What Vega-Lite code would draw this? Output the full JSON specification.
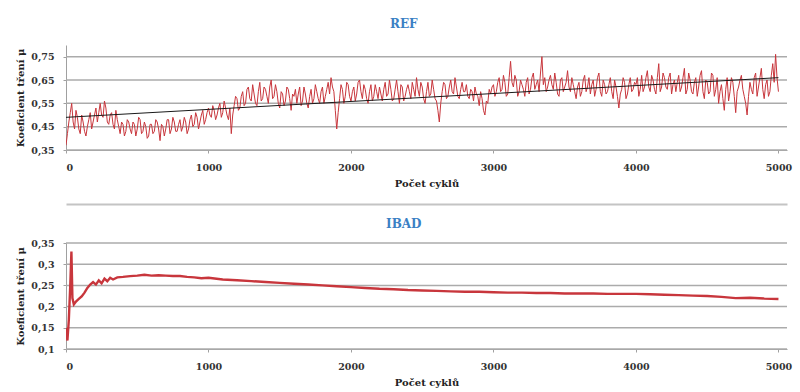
{
  "$schema": "https://vega.github.io/schema/vega-lite/v6.json",
  "background": "white",
  "padding": {"left": 15, "top": 18, "right": 3, "bottom": 0},
  "config": {
    "font": "DejaVu Serif",
    "view": {"stroke": null},
    "concat": {"spacing": 14},
    "title": {"font": "DejaVu Serif", "fontSize": 12, "fontWeight": "bold", "color": "#3A80C4", "anchor": "middle", "frame": "bounds", "offset": 14},
    "axis": {
      "labelFont": "DejaVu Serif", "labelFontSize": 9.5, "labelFontWeight": "bold", "labelColor": "#333333",
      "titleFont": "DejaVu Serif", "titleFontSize": 10, "titleFontWeight": "bold", "titleColor": "#222222",
      "domainColor": "#a0a0a0", "tickColor": "#a0a0a0", "tickSize": 3
    }
  },
  "datasets": {
    "ref": [
      {"c":0,"mu":0.37},{"c":20,"mu":0.47},{"c":40,"mu":0.55},{"c":60,"mu":0.44},{"c":80,"mu":0.49},{"c":100,"mu":0.42},{"c":120,"mu":0.47},{"c":140,"mu":0.41},{"c":160,"mu":0.48},{"c":180,"mu":0.44},
      {"c":200,"mu":0.50},{"c":220,"mu":0.47},{"c":240,"mu":0.55},{"c":260,"mu":0.49},{"c":280,"mu":0.53},{"c":300,"mu":0.46},{"c":320,"mu":0.51},{"c":340,"mu":0.44},{"c":360,"mu":0.48},{"c":380,"mu":0.42},
      {"c":400,"mu":0.46},{"c":420,"mu":0.43},{"c":440,"mu":0.47},{"c":460,"mu":0.42},{"c":480,"mu":0.46},{"c":500,"mu":0.44},{"c":520,"mu":0.48},{"c":540,"mu":0.43},{"c":560,"mu":0.45},{"c":580,"mu":0.41},
      {"c":600,"mu":0.46},{"c":620,"mu":0.43},{"c":640,"mu":0.47},{"c":660,"mu":0.39},{"c":680,"mu":0.45},{"c":700,"mu":0.44},{"c":720,"mu":0.48},{"c":740,"mu":0.44},{"c":760,"mu":0.47},{"c":780,"mu":0.43},
      {"c":800,"mu":0.48},{"c":820,"mu":0.45},{"c":840,"mu":0.47},{"c":860,"mu":0.44},{"c":880,"mu":0.50},{"c":900,"mu":0.46},{"c":920,"mu":0.49},{"c":940,"mu":0.47},{"c":960,"mu":0.52},{"c":980,"mu":0.48},
      {"c":1000,"mu":0.53},{"c":1020,"mu":0.49},{"c":1040,"mu":0.52},{"c":1060,"mu":0.50},{"c":1080,"mu":0.55},{"c":1100,"mu":0.51},{"c":1120,"mu":0.53},{"c":1140,"mu":0.48},{"c":1160,"mu":0.42},{"c":1180,"mu":0.54},
      {"c":1200,"mu":0.57},{"c":1220,"mu":0.53},{"c":1240,"mu":0.60},{"c":1260,"mu":0.55},{"c":1280,"mu":0.62},{"c":1300,"mu":0.56},{"c":1320,"mu":0.59},{"c":1340,"mu":0.54},{"c":1360,"mu":0.64},{"c":1380,"mu":0.57},
      {"c":1400,"mu":0.61},{"c":1420,"mu":0.55},{"c":1440,"mu":0.65},{"c":1460,"mu":0.58},{"c":1480,"mu":0.60},{"c":1500,"mu":0.53},{"c":1520,"mu":0.59},{"c":1540,"mu":0.56},{"c":1560,"mu":0.61},{"c":1580,"mu":0.52},
      {"c":1600,"mu":0.58},{"c":1620,"mu":0.55},{"c":1640,"mu":0.62},{"c":1660,"mu":0.56},{"c":1680,"mu":0.59},{"c":1700,"mu":0.53},{"c":1720,"mu":0.61},{"c":1740,"mu":0.57},{"c":1760,"mu":0.60},{"c":1780,"mu":0.55},
      {"c":1800,"mu":0.62},{"c":1820,"mu":0.58},{"c":1840,"mu":0.64},{"c":1860,"mu":0.66},{"c":1880,"mu":0.60},{"c":1900,"mu":0.44},{"c":1920,"mu":0.57},{"c":1940,"mu":0.61},{"c":1960,"mu":0.58},{"c":1980,"mu":0.63},
      {"c":2000,"mu":0.56},{"c":2020,"mu":0.62},{"c":2040,"mu":0.59},{"c":2060,"mu":0.65},{"c":2080,"mu":0.57},{"c":2100,"mu":0.61},{"c":2120,"mu":0.55},{"c":2140,"mu":0.63},{"c":2160,"mu":0.58},{"c":2180,"mu":0.60},
      {"c":2200,"mu":0.62},{"c":2220,"mu":0.56},{"c":2240,"mu":0.64},{"c":2260,"mu":0.59},{"c":2280,"mu":0.61},{"c":2300,"mu":0.57},{"c":2320,"mu":0.65},{"c":2340,"mu":0.55},{"c":2360,"mu":0.62},{"c":2380,"mu":0.58},
      {"c":2400,"mu":0.63},{"c":2420,"mu":0.57},{"c":2440,"mu":0.61},{"c":2460,"mu":0.66},{"c":2480,"mu":0.58},{"c":2500,"mu":0.62},{"c":2520,"mu":0.55},{"c":2540,"mu":0.64},{"c":2560,"mu":0.59},{"c":2580,"mu":0.61},
      {"c":2600,"mu":0.56},{"c":2620,"mu":0.47},{"c":2640,"mu":0.60},{"c":2660,"mu":0.63},{"c":2680,"mu":0.58},{"c":2700,"mu":0.65},{"c":2720,"mu":0.59},{"c":2740,"mu":0.62},{"c":2760,"mu":0.57},{"c":2780,"mu":0.64},
      {"c":2800,"mu":0.60},{"c":2820,"mu":0.58},{"c":2840,"mu":0.61},{"c":2860,"mu":0.56},{"c":2880,"mu":0.59},{"c":2900,"mu":0.54},{"c":2920,"mu":0.57},{"c":2940,"mu":0.50},{"c":2960,"mu":0.55},{"c":2980,"mu":0.59},
      {"c":3000,"mu":0.63},{"c":3020,"mu":0.60},{"c":3040,"mu":0.66},{"c":3060,"mu":0.61},{"c":3080,"mu":0.64},{"c":3100,"mu":0.59},{"c":3120,"mu":0.73},{"c":3140,"mu":0.62},{"c":3160,"mu":0.65},{"c":3180,"mu":0.60},
      {"c":3200,"mu":0.63},{"c":3220,"mu":0.58},{"c":3240,"mu":0.66},{"c":3260,"mu":0.61},{"c":3280,"mu":0.68},{"c":3300,"mu":0.63},{"c":3320,"mu":0.60},{"c":3340,"mu":0.75},{"c":3360,"mu":0.66},{"c":3380,"mu":0.62},
      {"c":3400,"mu":0.67},{"c":3420,"mu":0.61},{"c":3440,"mu":0.64},{"c":3460,"mu":0.58},{"c":3480,"mu":0.66},{"c":3500,"mu":0.62},{"c":3520,"mu":0.69},{"c":3540,"mu":0.60},{"c":3560,"mu":0.63},{"c":3580,"mu":0.57},
      {"c":3600,"mu":0.64},{"c":3620,"mu":0.60},{"c":3640,"mu":0.67},{"c":3660,"mu":0.62},{"c":3680,"mu":0.59},{"c":3700,"mu":0.65},{"c":3720,"mu":0.61},{"c":3740,"mu":0.68},{"c":3760,"mu":0.58},{"c":3780,"mu":0.63},
      {"c":3800,"mu":0.60},{"c":3820,"mu":0.66},{"c":3840,"mu":0.57},{"c":3860,"mu":0.62},{"c":3880,"mu":0.53},{"c":3900,"mu":0.61},{"c":3920,"mu":0.64},{"c":3940,"mu":0.59},{"c":3960,"mu":0.66},{"c":3980,"mu":0.61},
      {"c":4000,"mu":0.63},{"c":4020,"mu":0.58},{"c":4040,"mu":0.67},{"c":4060,"mu":0.62},{"c":4080,"mu":0.69},{"c":4100,"mu":0.60},{"c":4120,"mu":0.65},{"c":4140,"mu":0.59},{"c":4160,"mu":0.72},{"c":4180,"mu":0.62},
      {"c":4200,"mu":0.66},{"c":4220,"mu":0.61},{"c":4240,"mu":0.68},{"c":4260,"mu":0.63},{"c":4280,"mu":0.60},{"c":4300,"mu":0.67},{"c":4320,"mu":0.62},{"c":4340,"mu":0.70},{"c":4360,"mu":0.61},{"c":4380,"mu":0.65},
      {"c":4400,"mu":0.59},{"c":4420,"mu":0.66},{"c":4440,"mu":0.62},{"c":4460,"mu":0.69},{"c":4480,"mu":0.57},{"c":4500,"mu":0.64},{"c":4520,"mu":0.60},{"c":4540,"mu":0.67},{"c":4560,"mu":0.61},{"c":4580,"mu":0.55},
      {"c":4600,"mu":0.63},{"c":4620,"mu":0.52},{"c":4640,"mu":0.66},{"c":4660,"mu":0.60},{"c":4680,"mu":0.64},{"c":4700,"mu":0.51},{"c":4720,"mu":0.62},{"c":4740,"mu":0.67},{"c":4760,"mu":0.58},{"c":4780,"mu":0.50},
      {"c":4800,"mu":0.64},{"c":4820,"mu":0.59},{"c":4840,"mu":0.68},{"c":4860,"mu":0.62},{"c":4880,"mu":0.70},{"c":4900,"mu":0.57},{"c":4920,"mu":0.65},{"c":4940,"mu":0.60},{"c":4960,"mu":0.72},{"c":4980,"mu":0.76},
      {"c":5000,"mu":0.60},
      {"c":10,"mu":0.42},{"c":30,"mu":0.51},{"c":50,"mu":0.47},{"c":70,"mu":0.52},{"c":90,"mu":0.44},{"c":110,"mu":0.50},{"c":130,"mu":0.43},{"c":150,"mu":0.45},{"c":170,"mu":0.51},{"c":190,"mu":0.47},
      {"c":210,"mu":0.53},{"c":230,"mu":0.51},{"c":250,"mu":0.50},{"c":270,"mu":0.56},{"c":290,"mu":0.47},{"c":310,"mu":0.50},{"c":330,"mu":0.46},{"c":350,"mu":0.52},{"c":370,"mu":0.45},{"c":390,"mu":0.47},
      {"c":410,"mu":0.41},{"c":430,"mu":0.48},{"c":450,"mu":0.44},{"c":470,"mu":0.47},{"c":490,"mu":0.41},{"c":510,"mu":0.49},{"c":530,"mu":0.42},{"c":550,"mu":0.47},{"c":570,"mu":0.40},{"c":590,"mu":0.46},
      {"c":610,"mu":0.42},{"c":630,"mu":0.48},{"c":650,"mu":0.44},{"c":670,"mu":0.46},{"c":690,"mu":0.41},{"c":710,"mu":0.48},{"c":730,"mu":0.42},{"c":750,"mu":0.49},{"c":770,"mu":0.43},{"c":790,"mu":0.46},
      {"c":810,"mu":0.43},{"c":830,"mu":0.49},{"c":850,"mu":0.42},{"c":870,"mu":0.48},{"c":890,"mu":0.45},{"c":910,"mu":0.51},{"c":930,"mu":0.44},{"c":950,"mu":0.50},{"c":970,"mu":0.46},{"c":990,"mu":0.51},
      {"c":1010,"mu":0.50},{"c":1030,"mu":0.54},{"c":1050,"mu":0.48},{"c":1070,"mu":0.53},{"c":1090,"mu":0.49},{"c":1110,"mu":0.56},{"c":1130,"mu":0.50},{"c":1150,"mu":0.53},{"c":1170,"mu":0.50},{"c":1190,"mu":0.58},
      {"c":1210,"mu":0.52},{"c":1230,"mu":0.58},{"c":1250,"mu":0.54},{"c":1270,"mu":0.61},{"c":1290,"mu":0.57},{"c":1310,"mu":0.63},{"c":1330,"mu":0.55},{"c":1350,"mu":0.60},{"c":1370,"mu":0.56},{"c":1390,"mu":0.62},
      {"c":1410,"mu":0.58},{"c":1430,"mu":0.62},{"c":1450,"mu":0.57},{"c":1470,"mu":0.63},{"c":1490,"mu":0.55},{"c":1510,"mu":0.60},{"c":1530,"mu":0.54},{"c":1550,"mu":0.62},{"c":1570,"mu":0.57},{"c":1590,"mu":0.59},
      {"c":1610,"mu":0.61},{"c":1630,"mu":0.59},{"c":1650,"mu":0.54},{"c":1670,"mu":0.62},{"c":1690,"mu":0.55},{"c":1710,"mu":0.58},{"c":1730,"mu":0.55},{"c":1750,"mu":0.63},{"c":1770,"mu":0.57},{"c":1790,"mu":0.60},
      {"c":1810,"mu":0.55},{"c":1830,"mu":0.61},{"c":1850,"mu":0.59},{"c":1870,"mu":0.62},{"c":1890,"mu":0.52},{"c":1910,"mu":0.51},{"c":1930,"mu":0.63},{"c":1950,"mu":0.55},{"c":1970,"mu":0.64},{"c":1990,"mu":0.58},
      {"c":2010,"mu":0.60},{"c":2030,"mu":0.56},{"c":2050,"mu":0.64},{"c":2070,"mu":0.60},{"c":2090,"mu":0.63},{"c":2110,"mu":0.57},{"c":2130,"mu":0.60},{"c":2150,"mu":0.56},{"c":2170,"mu":0.63},{"c":2190,"mu":0.57},
      {"c":2210,"mu":0.59},{"c":2230,"mu":0.61},{"c":2250,"mu":0.58},{"c":2270,"mu":0.65},{"c":2290,"mu":0.56},{"c":2310,"mu":0.61},{"c":2330,"mu":0.60},{"c":2350,"mu":0.63},{"c":2370,"mu":0.56},{"c":2390,"mu":0.61},
      {"c":2410,"mu":0.60},{"c":2430,"mu":0.64},{"c":2450,"mu":0.58},{"c":2470,"mu":0.61},{"c":2490,"mu":0.64},{"c":2510,"mu":0.57},{"c":2530,"mu":0.60},{"c":2550,"mu":0.58},{"c":2570,"mu":0.65},{"c":2590,"mu":0.57},
      {"c":2610,"mu":0.52},{"c":2630,"mu":0.55},{"c":2650,"mu":0.64},{"c":2670,"mu":0.57},{"c":2690,"mu":0.62},{"c":2710,"mu":0.60},{"c":2730,"mu":0.66},{"c":2750,"mu":0.58},{"c":2770,"mu":0.61},{"c":2790,"mu":0.60},
      {"c":2810,"mu":0.63},{"c":2830,"mu":0.57},{"c":2850,"mu":0.60},{"c":2870,"mu":0.62},{"c":2890,"mu":0.58},{"c":2910,"mu":0.60},{"c":2930,"mu":0.52},{"c":2950,"mu":0.56},{"c":2970,"mu":0.61},{"c":2990,"mu":0.62},
      {"c":3010,"mu":0.58},{"c":3030,"mu":0.64},{"c":3050,"mu":0.60},{"c":3070,"mu":0.67},{"c":3090,"mu":0.58},{"c":3110,"mu":0.66},{"c":3130,"mu":0.64},{"c":3150,"mu":0.67},{"c":3170,"mu":0.58},{"c":3190,"mu":0.65},
      {"c":3210,"mu":0.61},{"c":3230,"mu":0.64},{"c":3250,"mu":0.59},{"c":3270,"mu":0.66},{"c":3290,"mu":0.61},{"c":3310,"mu":0.65},{"c":3330,"mu":0.68},{"c":3350,"mu":0.63},{"c":3370,"mu":0.60},{"c":3390,"mu":0.65},
      {"c":3410,"mu":0.63},{"c":3430,"mu":0.68},{"c":3450,"mu":0.59},{"c":3470,"mu":0.65},{"c":3490,"mu":0.60},{"c":3510,"mu":0.64},{"c":3530,"mu":0.62},{"c":3550,"mu":0.66},{"c":3570,"mu":0.60},{"c":3590,"mu":0.62},
      {"c":3610,"mu":0.58},{"c":3630,"mu":0.65},{"c":3650,"mu":0.60},{"c":3670,"mu":0.66},{"c":3690,"mu":0.63},{"c":3710,"mu":0.58},{"c":3730,"mu":0.66},{"c":3750,"mu":0.60},{"c":3770,"mu":0.65},{"c":3790,"mu":0.59},
      {"c":3810,"mu":0.63},{"c":3830,"mu":0.60},{"c":3850,"mu":0.65},{"c":3870,"mu":0.58},{"c":3890,"mu":0.59},{"c":3910,"mu":0.66},{"c":3930,"mu":0.57},{"c":3950,"mu":0.63},{"c":3970,"mu":0.60},{"c":3990,"mu":0.64},
      {"c":4010,"mu":0.66},{"c":4030,"mu":0.61},{"c":4050,"mu":0.60},{"c":4070,"mu":0.66},{"c":4090,"mu":0.62},{"c":4110,"mu":0.67},{"c":4130,"mu":0.61},{"c":4150,"mu":0.66},{"c":4170,"mu":0.60},{"c":4190,"mu":0.68},
      {"c":4210,"mu":0.62},{"c":4230,"mu":0.66},{"c":4250,"mu":0.59},{"c":4270,"mu":0.65},{"c":4290,"mu":0.64},{"c":4310,"mu":0.60},{"c":4330,"mu":0.66},{"c":4350,"mu":0.59},{"c":4370,"mu":0.68},{"c":4390,"mu":0.60},
      {"c":4410,"mu":0.64},{"c":4430,"mu":0.58},{"c":4450,"mu":0.67},{"c":4470,"mu":0.60},{"c":4490,"mu":0.65},{"c":4510,"mu":0.59},{"c":4530,"mu":0.68},{"c":4550,"mu":0.58},{"c":4570,"mu":0.66},{"c":4590,"mu":0.60},
      {"c":4610,"mu":0.57},{"c":4630,"mu":0.61},{"c":4650,"mu":0.56},{"c":4670,"mu":0.66},{"c":4690,"mu":0.58},{"c":4710,"mu":0.60},{"c":4730,"mu":0.65},{"c":4750,"mu":0.61},{"c":4770,"mu":0.55},{"c":4790,"mu":0.58},
      {"c":4810,"mu":0.61},{"c":4830,"mu":0.66},{"c":4850,"mu":0.58},{"c":4870,"mu":0.66},{"c":4890,"mu":0.61},{"c":4910,"mu":0.63},{"c":4930,"mu":0.58},{"c":4950,"mu":0.67},{"c":4970,"mu":0.64},{"c":4990,"mu":0.66}
    ],
    "refTrend": [
      {"c":0,"mu":0.49},{"c":5000,"mu":0.66}
    ],
    "refGrid": [
      {"g":0.35},{"g":0.45},{"g":0.55},{"g":0.65},{"g":0.75}
    ],
    "ibadGrid": [
      {"g":0.1},{"g":0.15},{"g":0.2},{"g":0.25},{"g":0.3},{"g":0.35}
    ],
    "ibad": [
      {"c":0,"mu":0.15},{"c":10,"mu":0.12},{"c":20,"mu":0.17},{"c":30,"mu":0.25},{"c":38,"mu":0.33},{"c":45,"mu":0.22},{"c":55,"mu":0.205},{"c":70,"mu":0.212},{"c":90,"mu":0.218},{"c":110,"mu":0.224},
      {"c":130,"mu":0.233},{"c":150,"mu":0.244},{"c":170,"mu":0.252},{"c":190,"mu":0.258},{"c":210,"mu":0.252},{"c":230,"mu":0.262},{"c":250,"mu":0.255},{"c":270,"mu":0.266},{"c":290,"mu":0.26},{"c":310,"mu":0.268},
      {"c":330,"mu":0.264},{"c":360,"mu":0.269},{"c":400,"mu":0.27},{"c":450,"mu":0.272},{"c":500,"mu":0.273},{"c":550,"mu":0.275},{"c":600,"mu":0.273},{"c":650,"mu":0.274},{"c":700,"mu":0.273},{"c":750,"mu":0.272},
      {"c":800,"mu":0.272},{"c":850,"mu":0.27},{"c":900,"mu":0.269},{"c":950,"mu":0.267},{"c":1000,"mu":0.268},{"c":1100,"mu":0.264},{"c":1200,"mu":0.262},{"c":1300,"mu":0.26},{"c":1400,"mu":0.258},{"c":1500,"mu":0.256},
      {"c":1600,"mu":0.254},{"c":1700,"mu":0.252},{"c":1800,"mu":0.25},{"c":1900,"mu":0.248},{"c":2000,"mu":0.246},{"c":2100,"mu":0.244},{"c":2200,"mu":0.242},{"c":2300,"mu":0.241},{"c":2400,"mu":0.239},{"c":2500,"mu":0.238},
      {"c":2600,"mu":0.237},{"c":2700,"mu":0.236},{"c":2800,"mu":0.235},{"c":2900,"mu":0.235},{"c":3000,"mu":0.234},{"c":3100,"mu":0.233},{"c":3200,"mu":0.233},{"c":3300,"mu":0.232},{"c":3400,"mu":0.232},{"c":3500,"mu":0.231},
      {"c":3600,"mu":0.231},{"c":3700,"mu":0.231},{"c":3800,"mu":0.23},{"c":3900,"mu":0.23},{"c":4000,"mu":0.23},{"c":4100,"mu":0.229},{"c":4200,"mu":0.228},{"c":4300,"mu":0.227},{"c":4400,"mu":0.226},{"c":4500,"mu":0.225},
      {"c":4600,"mu":0.223},{"c":4700,"mu":0.22},{"c":4800,"mu":0.221},{"c":4900,"mu":0.219},{"c":5000,"mu":0.218}
    ]
  },
  "vconcat": [
    {
      "title": {"text": "REF"},
      "width": 721,
      "height": 105,
      "layer": [
        {
          "data": {"name": "refGrid"},
          "mark": {"type": "rule", "color": "#ababab", "strokeWidth": 1.5},
          "encoding": {
            "y": {"field": "g", "type": "quantitative"}
          }
        },
        {
          "data": {"name": "ref"},
          "mark": {"type": "line", "color": "#c8363c", "strokeWidth": 1, "clip": true},
          "encoding": {
            "x": {"field": "c", "type": "quantitative", "scale": {"domain": [0, 5060], "nice": false},
                  "axis": {"values": [0, 1000, 2000, 3000, 4000, 5000], "grid": false, "format": "d", "title": "Počet cyklů", "labelPadding": 9, "titlePadding": 7}},
            "y": {"field": "mu", "type": "quantitative", "scale": {"domain": [0.35, 0.8], "nice": false, "zero": false},
                  "axis": {"values": [0.35, 0.45, 0.55, 0.65, 0.75], "tickCount": 10, "grid": false, "labelOverlap": false,
                           "labelExpr": "replace(format(datum.value, '.2~f'), '.', ',')", "title": "Koeficient tření μ", "titlePadding": 5, "labelPadding": 9}}
          }
        },
        {
          "data": {"name": "refTrend"},
          "mark": {"type": "line", "color": "#1a1a1a", "strokeWidth": 1},
          "encoding": {
            "x": {"field": "c", "type": "quantitative",
                  "axis": {"orient": "bottom", "offset": 54, "labels": false, "ticks": false, "grid": false, "title": null, "domainColor": "#c4c4c4", "domainWidth": 2}},
            "y": {"field": "mu", "type": "quantitative"}
          }
        }
      ],
      "resolve": {"axis": {"x": "independent"}}
    },
    {
      "title": {"text": "IBAD", "offset": 7},
      "width": 721,
      "height": 106,
      "layer": [
        {
          "data": {"name": "ibadGrid"},
          "mark": {"type": "rule", "color": "#ababab", "strokeWidth": 1.5},
          "encoding": {
            "y": {"field": "g", "type": "quantitative"}
          }
        },
        {
          "data": {"name": "ibad"},
          "mark": {"type": "line", "color": "#c8363c", "strokeWidth": 2.4, "clip": true},
          "encoding": {
            "x": {"field": "c", "type": "quantitative", "scale": {"domain": [0, 5060], "nice": false},
                  "axis": {"values": [0, 1000, 2000, 3000, 4000, 5000], "grid": false, "format": "d", "title": "Počet cyklů", "labelPadding": 9, "titlePadding": 7}},
            "y": {"field": "mu", "type": "quantitative", "scale": {"domain": [0.1, 0.35], "nice": false, "zero": false},
                  "axis": {"values": [0.1, 0.15, 0.2, 0.25, 0.3, 0.35], "tickCount": 10, "grid": false, "labelOverlap": false,
                           "labelExpr": "replace(format(datum.value, '.2~f'), '.', ',')", "title": "Koeficient tření μ", "titlePadding": 5, "labelPadding": 9}}
          }
        }
      ]
    }
  ]
}
